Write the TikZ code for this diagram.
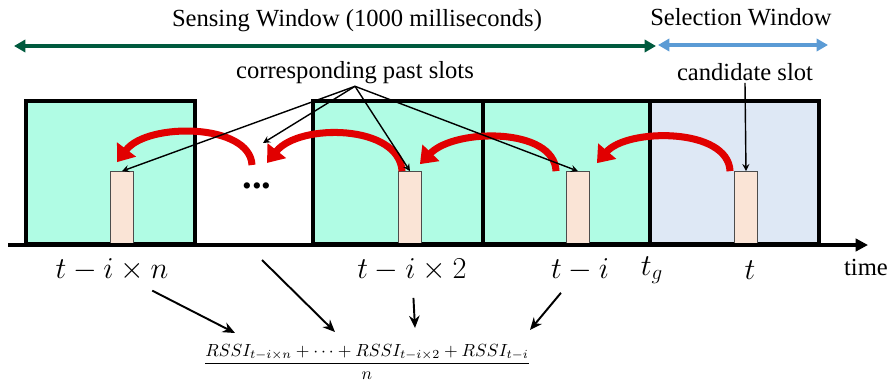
\documentclass[tikz,border=0pt]{standalone}
\usepackage{amsmath}
\usepackage{fontspec}
\setmainfont{Liberation Serif}
\usetikzlibrary{arrows.meta,calc}
\definecolor{boxgreen}{RGB}{176,252,228}
\definecolor{boxblue}{RGB}{222,232,245}
\definecolor{slotfill}{RGB}{250,228,214}
\definecolor{sensegreen}{RGB}{0,90,62}
\definecolor{selblue}{RGB}{91,155,213}
\definecolor{arrowred}{RGB}{225,0,0}
\begin{document}
\begin{tikzpicture}[x=0.02cm, y=-0.02cm, >=stealth,
  txt/.style={font=\fontsize{14}{16}\selectfont, inner sep=1pt},
  lbl/.style={font=\fontsize{17}{19}\selectfont},
  win/.style={line width=2.3pt},
  slot/.style={draw=black!70, line width=0.5pt, fill=slotfill, minimum width=0.46cm, minimum height=1.44cm, inner sep=0pt, anchor=south},
  redarr/.style={draw=arrowred, line width=4pt, -{Triangle[width=13pt,length=9pt]}},
  ptr/.style={->, line width=0.8pt},
  sumarr/.style={-{Stealth[length=7pt,width=6pt]}, line width=1.1pt}]
  \useasboundingbox (0,0) rectangle (894,389);

  % windows
  \draw[win, fill=boxgreen] (26,101) rectangle (195,244);
  \draw[win, fill=boxgreen] (313,101) rectangle (483,244);
  \draw[win, fill=boxgreen] (483,101) rectangle (650,244);
  \draw[win, fill=boxblue] (650,101) rectangle (819,244);

  % slots
  \node[slot] (S1) at (122,244) {};
  \node[slot] (S2) at (410,244) {};
  \node[slot] (S3) at (578,244) {};
  \node[slot] (S4) at (746,244) {};
  \node[font=\fontsize{22}{22}\selectfont\bfseries, anchor=base] (D) at (257,188) {...};

  % time axis
  \coordinate (T0) at (8,245);
  \coordinate (T1) at (868,245);
  \draw[line width=2.3pt, -{Triangle[width=7pt,length=7pt]}] (T0) -- (T1);
  \node[txt, anchor=west] (time) at (842,267) {time};

  % sensing / selection windows
  \coordinate (SWL) at (14,46);
  \coordinate (SWR) at (656,46);
  \coordinate (SLL) at (658,45);
  \coordinate (SLR) at (828,45);
  \draw[sensegreen, line width=1.8pt, {Triangle[width=7pt,length=6.5pt]}-{Triangle[width=7pt,length=6.5pt]}] (SWL) -- (SWR);
  \draw[selblue, line width=1.8pt, {Triangle[width=7pt,length=6.5pt]}-{Triangle[width=7pt,length=6.5pt]}] (SLL) -- (SLR);
  \node[txt] (SWtxt) at (357,21) {Sensing Window (1000 milliseconds)};
  \node[txt] (SLtxt) at (741,17) {Selection Window};

  % red curved arrows
  \draw[redarr] ($(S4.north west)+(-4,0)$) .. controls +(-2,-44) and +(30,-35) .. ($(S3.north east)+(7,-8)$);
  \draw[redarr] ($(S3.north west)+(-10,0)$) .. controls +(-2,-44) and +(35,-36) .. ($(S2.north east)+(-2,-7)$);
  \draw[redarr] ($(S2.north west)+(4,0)$) .. controls +(-3,-47) and +(32,-40) .. ($(D.base)+(10,-25)$);
  \draw[redarr] ($(D.base)+(-5,-23)$) .. controls +(-2,-42) and +(30,-40) .. ($(S1.north west)+(7,-9)$);

  % pointers
  \node[txt] (past) at (355,73) {corresponding past slots};
  \node[txt] (cand) at (745,72) {candidate slot};
  \draw[ptr] (past.south) -- (S1.north);
  \draw[ptr] (past.south) -- ($(D.base)+(6,-45)$);
  \draw[ptr] (past.south) -- (S2.north);
  \draw[ptr] (past.south) -- (S3.north);
  \draw[ptr] (cand.south) -- (S4.north);

  % slot labels
  \node[lbl] (L1) at (112,270) {$t-i\times n$};
  \node[lbl] (L2) at (412,270) {$t-i\times 2$};
  \node[lbl] (L3) at (580,270) {$t-i$};
  \node[lbl] (L4) at (652,270) {$t_g$};
  \node[lbl] (L5) at (750,270) {$t$};

  % average
  \node (F) at (367,362) {$\dfrac{RSSI_{t-i\times n}+\cdots+RSSI_{t-i\times 2}+RSSI_{t-i}}{n}$};
  \coordinate (gap) at (262,260);
  \draw[sumarr, shorten <=4pt] (L1) -- ($(F)+(-132,-29)$);
  \draw[sumarr] (gap) -- ($(F)+(-32,-30)$);
  \draw[sumarr, shorten <=6pt] (L2) -- ($(F)+(48,-34)$);
  \draw[sumarr, shorten <=4pt] (L3) -- ($(F)+(163,-32)$);
\end{tikzpicture}
\end{document}
